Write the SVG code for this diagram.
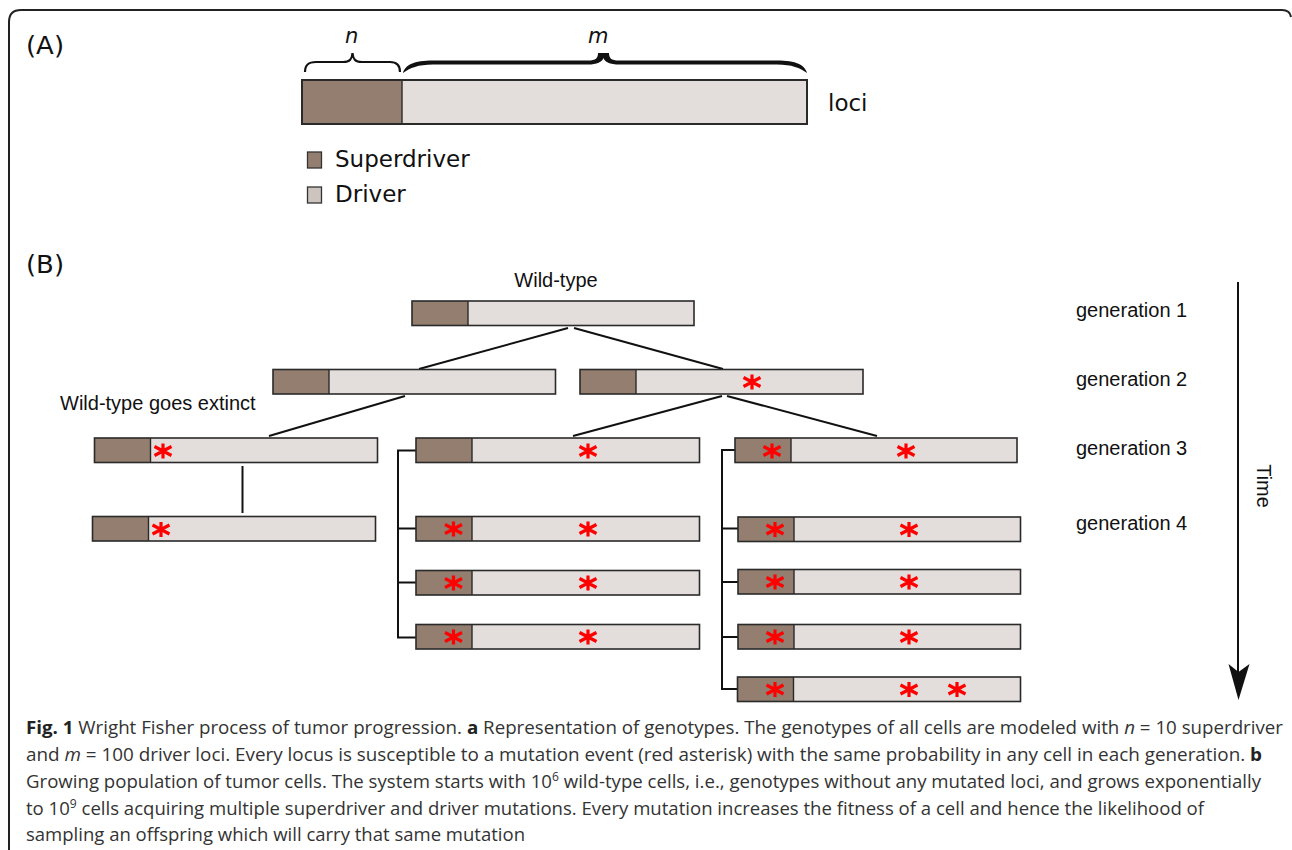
<svg xmlns="http://www.w3.org/2000/svg" xmlns:xlink="http://www.w3.org/1999/xlink" width="1292" height="850" viewBox="0 0 1292 850">
<style>
.frame{fill:none;stroke:#222;stroke-width:2}
.drv{fill:#e3dedb}
.sd{fill:#937e6f}
.out{fill:none;stroke:#2a2a2a;stroke-width:1.6}
.sep{stroke:#2a2a2a;stroke-width:1.4}
.ln{stroke:#111;stroke-width:2;fill:none}
.top{font-family:"DejaVu Sans","Liberation Sans",sans-serif;font-size:23px;fill:#111}
.pl{font-family:"DejaVu Sans","Liberation Sans",sans-serif;font-size:25px;fill:#111}
.it{font-family:"DejaVu Sans","Liberation Sans",sans-serif;font-size:21px;font-style:italic;fill:#111}
.lbl{font-family:"Liberation Sans",Arial,sans-serif;font-size:20px;fill:#111}
.cap{font-family:"Open Sans","Liberation Sans",sans-serif;font-size:18.5px;fill:#333}
.b{font-weight:bold;fill:#222}
.i{font-style:italic}
.sup{font-size:12px}
</style>
<defs>
<g id="ast"><path d="M0,-7.5V7.5M-8.5,-4.5L8.5,4.5M-8.5,4.5L8.5,-4.5" stroke="#ff0000" stroke-width="3.2" fill="none"/></g>
</defs>

<path class="frame" d="M9,850 V22 Q9,10 21,10 H1282 Q1290,10 1291,17"/>

<!-- Part A -->
<text class="pl" x="26" y="54" textLength="38" lengthAdjust="spacingAndGlyphs">(A)</text>
<g id="braces">
<path d="M305,72 C305,65 308,62 316,62 L343,62 C350,62 352,59 352.5,53 C353,59 355,62 362,62 L390,62 C397,62 400,65 400,72" fill="none" stroke="#111" stroke-width="2.2"/>
<path d="M403,73 C405,65 414,60.5 433,60.5 L588,60.5 C596,60.5 598,58 598,53 L609,53 C609,58 611,60.5 619,60.5 L777,60.5 C796,60.5 805,65 807,73 C800,68 792,64.5 777,64.5 L620,64.5 C609,64.5 605,62 603.5,58 C602,62 597,64.5 588,64.5 L433,64.5 C418,64.5 410,68 403,73 Z" fill="#111"/>
</g>
<text class="it" x="345" y="43">n</text>
<text class="it" x="588" y="43">m</text>
<g id="locus-bar">
<rect class="drv" x="302" y="80" width="505" height="44"/>
<rect class="sd" x="302" y="80" width="100" height="44"/>
<line class="sep" x1="402" y1="80" x2="402" y2="124"/>
<rect class="out" x="302" y="80" width="505" height="44" style="stroke-width:2"/>
</g>
<text class="top" x="828" y="111">loci</text>
<g id="legend-superdriver">
<rect x="307.5" y="152" width="14" height="16" fill="#937e6f" stroke="#333" stroke-width="1.3"/>
<text class="top" x="335" y="167">Superdriver</text>
</g>
<g id="legend-driver">
<rect x="307.5" y="187" width="14" height="16" fill="#cdc4c0" stroke="#333" stroke-width="1.3"/>
<text class="top" x="335" y="202">Driver</text>
</g>

<!-- Part B -->
<text class="pl" x="26" y="273" textLength="38" lengthAdjust="spacingAndGlyphs">(B)</text>
<text class="lbl" x="556" y="287" text-anchor="middle">Wild-type</text>
<text class="lbl" x="60" y="410">Wild-type goes extinct</text>

<g id="connectors">
<line class="ln" x1="568" y1="328" x2="419" y2="369"/>
<line class="ln" x1="574" y1="328" x2="723" y2="369"/>
<line class="ln" x1="405" y1="396" x2="269" y2="436"/>
<line class="ln" x1="722" y1="396" x2="573" y2="436"/>
<line class="ln" x1="727" y1="396" x2="877" y2="436"/>
<line class="ln" x1="242.5" y1="466" x2="242.5" y2="513"/>
<path class="ln" d="M416,450.5 H398 V637.5 H416 M398,528.5 H416 M398,582.5 H416"/>
<path class="ln" d="M735,450 H722 V689 H738 M722,528.5 H738 M722,582 H738 M722,637 H738"/>
</g>

<g id="gen1-wildtype">
<rect class="drv" x="412" y="301" width="282" height="24.5"/>
<rect class="sd" x="412" y="301" width="56" height="24.5"/>
<line class="sep" x1="468" y1="301" x2="468" y2="325.5"/>
<rect class="out" x="412" y="301" width="282" height="24.5"/>
</g>
<g id="gen2-left">
<rect class="drv" x="273" y="369.5" width="282.5" height="24.5"/>
<rect class="sd" x="273" y="369.5" width="56" height="24.5"/>
<line class="sep" x1="329" y1="369.5" x2="329" y2="394"/>
<rect class="out" x="273" y="369.5" width="282.5" height="24.5"/>
</g>
<g id="gen2-right">
<rect class="drv" x="580" y="369.5" width="283" height="24.5"/>
<rect class="sd" x="580" y="369.5" width="56" height="24.5"/>
<line class="sep" x1="636" y1="369.5" x2="636" y2="394"/>
<rect class="out" x="580" y="369.5" width="283" height="24.5"/>
<use xlink:href="#ast" x="752" y="382"/>
</g>
<g id="gen3-left">
<rect class="drv" x="94.5" y="438" width="283" height="24.5"/>
<rect class="sd" x="94.5" y="438" width="56" height="24.5"/>
<line class="sep" x1="150.5" y1="438" x2="150.5" y2="462.5"/>
<rect class="out" x="94.5" y="438" width="283" height="24.5"/>
<use xlink:href="#ast" x="163" y="451"/>
</g>
<g id="gen4-left">
<rect class="drv" x="92.5" y="516.5" width="283" height="24.5"/>
<rect class="sd" x="92.5" y="516.5" width="56" height="24.5"/>
<line class="sep" x1="148.5" y1="516.5" x2="148.5" y2="541"/>
<rect class="out" x="92.5" y="516.5" width="283" height="24.5"/>
<use xlink:href="#ast" x="161" y="529.5"/>
</g>
<g id="gen3-middle">
<rect class="drv" x="416" y="438" width="283.5" height="24.5"/>
<rect class="sd" x="416" y="438" width="56" height="24.5"/>
<line class="sep" x1="472" y1="438" x2="472" y2="462.5"/>
<rect class="out" x="416" y="438" width="283.5" height="24.5"/>
<use xlink:href="#ast" x="588" y="451"/>
</g>
<g id="gen4-middle-1">
<rect class="drv" x="416" y="516.5" width="283.5" height="24.5"/>
<rect class="sd" x="416" y="516.5" width="56" height="24.5"/>
<line class="sep" x1="472" y1="516.5" x2="472" y2="541"/>
<rect class="out" x="416" y="516.5" width="283.5" height="24.5"/>
<use xlink:href="#ast" x="453.5" y="529"/>
<use xlink:href="#ast" x="588" y="529"/>
</g>
<g id="gen4-middle-2">
<rect class="drv" x="416" y="570.5" width="283.5" height="24.5"/>
<rect class="sd" x="416" y="570.5" width="56" height="24.5"/>
<line class="sep" x1="472" y1="570.5" x2="472" y2="595"/>
<rect class="out" x="416" y="570.5" width="283.5" height="24.5"/>
<use xlink:href="#ast" x="453.5" y="583"/>
<use xlink:href="#ast" x="588" y="583"/>
</g>
<g id="gen4-middle-3">
<rect class="drv" x="416" y="624.5" width="283.5" height="24.5"/>
<rect class="sd" x="416" y="624.5" width="56" height="24.5"/>
<line class="sep" x1="472" y1="624.5" x2="472" y2="649"/>
<rect class="out" x="416" y="624.5" width="283.5" height="24.5"/>
<use xlink:href="#ast" x="453.5" y="637"/>
<use xlink:href="#ast" x="588" y="637"/>
</g>
<g id="gen3-right">
<rect class="drv" x="735" y="438" width="282" height="24.5"/>
<rect class="sd" x="735" y="438" width="56" height="24.5"/>
<line class="sep" x1="791" y1="438" x2="791" y2="462.5"/>
<rect class="out" x="735" y="438" width="282" height="24.5"/>
<use xlink:href="#ast" x="772" y="451"/>
<use xlink:href="#ast" x="906" y="451"/>
</g>
<g id="gen4-right-1">
<rect class="drv" x="738" y="517" width="282.5" height="24.5"/>
<rect class="sd" x="738" y="517" width="56" height="24.5"/>
<line class="sep" x1="794" y1="517" x2="794" y2="541.5"/>
<rect class="out" x="738" y="517" width="282.5" height="24.5"/>
<use xlink:href="#ast" x="775" y="529.5"/>
<use xlink:href="#ast" x="909" y="529.5"/>
</g>
<g id="gen4-right-2">
<rect class="drv" x="738" y="569.5" width="282.5" height="24.5"/>
<rect class="sd" x="738" y="569.5" width="56" height="24.5"/>
<line class="sep" x1="794" y1="569.5" x2="794" y2="594"/>
<rect class="out" x="738" y="569.5" width="282.5" height="24.5"/>
<use xlink:href="#ast" x="775" y="582"/>
<use xlink:href="#ast" x="909" y="582"/>
</g>
<g id="gen4-right-3">
<rect class="drv" x="738" y="624.5" width="282.5" height="24.5"/>
<rect class="sd" x="738" y="624.5" width="56" height="24.5"/>
<line class="sep" x1="794" y1="624.5" x2="794" y2="649"/>
<rect class="out" x="738" y="624.5" width="282.5" height="24.5"/>
<use xlink:href="#ast" x="775" y="637"/>
<use xlink:href="#ast" x="909" y="637"/>
</g>
<g id="gen4-right-4">
<rect class="drv" x="737.5" y="677" width="283" height="24.5"/>
<rect class="sd" x="737.5" y="677" width="56" height="24.5"/>
<line class="sep" x1="793.5" y1="677" x2="793.5" y2="701.5"/>
<rect class="out" x="737.5" y="677" width="283" height="24.5"/>
<use xlink:href="#ast" x="775" y="689.5"/>
<use xlink:href="#ast" x="909" y="689.5"/>
<use xlink:href="#ast" x="957" y="689.5"/>
</g>

<g id="generation-labels">
<text class="lbl" x="1076" y="317">generation 1</text>
<text class="lbl" x="1076" y="386">generation 2</text>
<text class="lbl" x="1076" y="455">generation 3</text>
<text class="lbl" x="1076" y="530">generation 4</text>
</g>
<g id="time-axis">
<line x1="1238" y1="282" x2="1238" y2="680" stroke="#111" stroke-width="2"/>
<path d="M1238.5,700 L1228.5,664 L1238.5,672 L1249.5,664 Z" fill="#111"/>
<text class="lbl" transform="translate(1257,486) rotate(90)" text-anchor="middle">Time</text>
</g>

<g id="caption">
<text class="cap" x="26" y="734" textLength="1257" lengthAdjust="spacingAndGlyphs"><tspan class="b">Fig. 1</tspan> Wright Fisher process of tumor progression. <tspan class="b">a</tspan> Representation of genotypes. The genotypes of all cells are modeled with <tspan class="i">n</tspan> = 10 superdriver</text>
<text class="cap" x="26" y="761" textLength="1236" lengthAdjust="spacingAndGlyphs">and <tspan class="i">m</tspan> = 100 driver loci. Every locus is susceptible to a mutation event (red asterisk) with the same probability in any cell in each generation. <tspan class="b">b</tspan></text>
<text class="cap" x="26" y="788" textLength="1235" lengthAdjust="spacingAndGlyphs">Growing population of tumor cells. The system starts with 10<tspan class="sup" dy="-7">6</tspan><tspan dy="7"> wild-type cells, i.e., genotypes without any mutated loci, and grows exponentially</tspan></text>
<text class="cap" x="26" y="815" textLength="1178" lengthAdjust="spacingAndGlyphs">to 10<tspan class="sup" dy="-7">9</tspan><tspan dy="7"> cells acquiring multiple superdriver and driver mutations. Every mutation increases the fitness of a cell and hence the likelihood of</tspan></text>
<text class="cap" x="26" y="841" textLength="499" lengthAdjust="spacingAndGlyphs">sampling an offspring which will carry that same mutation</text>
</g>
</svg>
